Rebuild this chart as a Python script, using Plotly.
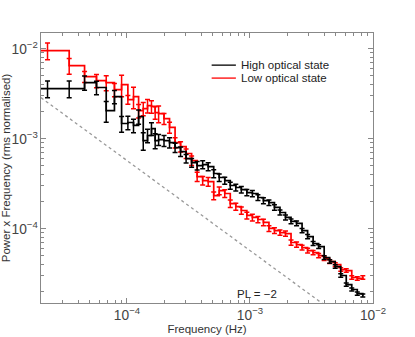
import plotly.graph_objects as go
import numpy as np

# frequency bins (Hz)
freq = [2.26e-5, 3.39e-5, 4.52e-5, 5.65e-5, 6.78e-5, 7.91e-5, 9.04e-5, 1.017e-4,
        1.13e-4, 1.243e-4, 1.356e-4, 1.469e-4, 1.582e-4, 1.695e-4, 1.808e-4,
        2.00e-4, 2.218e-4, 2.46e-4, 2.727e-4, 3.024e-4, 3.353e-4, 3.719e-4, 4.124e-4,
        4.573e-4, 5.071e-4, 5.623e-4, 6.236e-4, 6.915e-4, 7.668e-4, 8.503e-4, 9.43e-4,
        1.046e-3, 1.16e-3, 1.286e-3, 1.426e-3, 1.581e-3, 1.753e-3, 1.944e-3, 2.156e-3,
        2.391e-3, 2.651e-3, 2.94e-3, 3.26e-3, 3.615e-3, 4.009e-3, 4.445e-3, 4.93e-3,
        5.466e-3, 6.061e-3, 6.72e-3, 7.452e-3, 8.264e-3]

# power x frequency, high optical state
high_pf = [3.62e-3, 3.62e-3, 4.22e-3, 3.72e-3, 2.06e-3, 2.95e-3, 1.48e-3, 1.52e-3,
           1.41e-3, 1.77e-3, 9.57e-4, 1.09e-3, 1.30e-3, 9.57e-4, 9.82e-4,
           9.57e-4, 9.10e-4, 8.00e-4, 7.23e-4, 6.04e-4, 5.45e-4, 5.05e-4, 5.18e-4,
           4.92e-4, 4.12e-4, 3.72e-4, 3.44e-4, 3.03e-4, 2.88e-4, 2.73e-4, 2.53e-4,
           2.47e-4, 2.23e-4, 2.06e-4, 1.96e-4, 1.73e-4, 1.52e-4, 1.34e-4, 1.21e-4,
           1.15e-4, 9.57e-5, 8.21e-5, 6.87e-5, 6.36e-5, 4.80e-5, 4.33e-5, 3.81e-5,
           3.03e-5, 2.40e-5, 2.12e-5, 1.91e-5, 1.82e-5]
high_relerr = [0.21, 0.21, 0.18, 0.17, 0.26, 0.17, 0.20, 0.17,
               0.17, 0.18, 0.22, 0.17, 0.16, 0.19, 0.14,
               0.14, 0.13, 0.12, 0.12, 0.11, 0.11, 0.11, 0.10,
               0.10, 0.10, 0.095, 0.09, 0.09, 0.085, 0.085, 0.08,
               0.08, 0.075, 0.075, 0.07, 0.07, 0.065, 0.065, 0.06,
               0.06, 0.055, 0.055, 0.05, 0.05, 0.05, 0.045, 0.045,
               0.045, 0.04, 0.04, 0.04, 0.04]

# power x frequency, low optical state
low_pf = [9.57e-3, 6.52e-3, 4.92e-3, 4.44e-3, 4.22e-3, 3.53e-3, 4.01e-3, 2.73e-3,
          2.95e-3, 2.06e-3, 2.17e-3, 2.34e-3, 2.29e-3, 1.96e-3, 1.91e-3,
          1.68e-3, 1.34e-3, 9.10e-4, 8.21e-4, 6.87e-4, 5.74e-4, 3.81e-4, 3.44e-4,
          3.35e-4, 2.34e-4, 2.66e-4, 2.47e-4, 1.91e-4, 1.77e-4, 1.60e-4, 1.41e-4,
          1.34e-4, 1.27e-4, 1.18e-4, 1.01e-4, 9.57e-5, 9.10e-5, 8.87e-5, 7.05e-5,
          6.69e-5, 6.20e-5, 5.74e-5, 5.45e-5, 5.05e-5, 4.68e-5, 4.33e-5, 4.01e-5,
          3.53e-5, 3.44e-5, 2.88e-5, 2.81e-5, 2.88e-5]
low_relerr = [0.21, 0.20, 0.14, 0.17, 0.19, 0.17, 0.27, 0.11,
              0.27, 0.17, 0.17, 0.17, 0.16, 0.16, 0.21,
              0.14, 0.14, 0.13, 0.13, 0.12, 0.12, 0.12, 0.11,
              0.11, 0.10, 0.10, 0.10, 0.095, 0.09, 0.09, 0.085,
              0.085, 0.08, 0.08, 0.075, 0.075, 0.07, 0.07, 0.065,
              0.065, 0.06, 0.06, 0.055, 0.055, 0.05, 0.05, 0.05,
              0.045, 0.045, 0.045, 0.045, 0.045]

# PL = -2 reference line end points
pl_freq = [2e-5, 1e-2]
pl_pf = [2.87e-3, 5.74e-6]

labels = ["High optical state", "Low optical state"]
colors = ["black", "red"]

AX = "#888888"
FONT = "Liberation Sans"

fig = go.Figure()

fig.add_trace(go.Scatter(x=pl_freq, y=pl_pf, mode="lines", showlegend=False,
                         line=dict(color="#999999", width=1.3, dash="dot")))

f = np.array(freq)
for name, pf, rel, col in [(labels[1], low_pf, low_relerr, colors[1]),
                           (labels[0], high_pf, high_relerr, colors[0])]:
    pf = np.array(pf)
    err = pf * np.array(rel)
    # histogram-style steps: extend first bin half a step to the left
    xs = np.concatenate([[f[0] ** 2 / f[1]], f])
    ys = np.concatenate([[pf[0]], pf])
    fig.add_trace(go.Scatter(x=xs, y=ys, mode="lines", line_shape="hv",
                             line=dict(color=col, width=1.7), showlegend=False))
    fig.add_trace(go.Scatter(x=f, y=pf, mode="markers", marker=dict(size=1, color=col),
                             error_y=dict(type="data", array=err, color=col,
                                          thickness=1.5, width=2.5),
                             showlegend=False))

# legend drawn by hand (compact rows like the original)
for i, (lab, col) in enumerate(zip(labels, colors)):
    yy = 0.881 - i * 0.048
    fig.add_shape(type="line", xref="paper", yref="paper", x0=0.514, x1=0.587,
                  y0=yy, y1=yy, line=dict(color=col, width=1.3))
    fig.add_annotation(xref="paper", yref="paper", x=0.597, y=yy, text=lab,
                       showarrow=False, xanchor="left", yanchor="middle",
                       font=dict(family=FONT, size=11.5, color="#222222"))

fig.add_annotation(x=np.log10(1.15e-3), y=np.log10(1.9e-5), text="PL = −2",
                   showarrow=False, font=dict(family=FONT, size=11.5, color="#222222"))

axis_common = dict(type="log", showline=True, linecolor=AX, linewidth=1, mirror="ticks",
                   ticks="inside", ticklen=5, tickcolor=AX, showgrid=False, zeroline=False,
                   dtick=1, exponentformat="power", automargin=False,
                   minor=dict(ticks="inside", ticklen=3, tickcolor=AX, showgrid=False),
                   tickfont=dict(family=FONT, size=11, color="#444444"))

fig.update_xaxes(range=[np.log10(2e-5), -2], **axis_common,
                 title=dict(text="Frequency (Hz)", standoff=2,
                            font=dict(family=FONT, size=11.5, color="#333333")))
fig.update_yaxes(range=[np.log10(1.5e-5), np.log10(1.5e-2)], **axis_common,
                 title=dict(text="Power x Frequency (rms normalised)", standoff=2,
                            font=dict(family=FONT, size=11.5, color="#333333")))

fig.update_layout(width=415, height=337, margin=dict(l=41, r=42, t=33, b=34),
                  plot_bgcolor="white", paper_bgcolor="white")

fig.write_html("out.html", config={"displayModeBar": False},
               post_script="document.body.style.margin='0';")
